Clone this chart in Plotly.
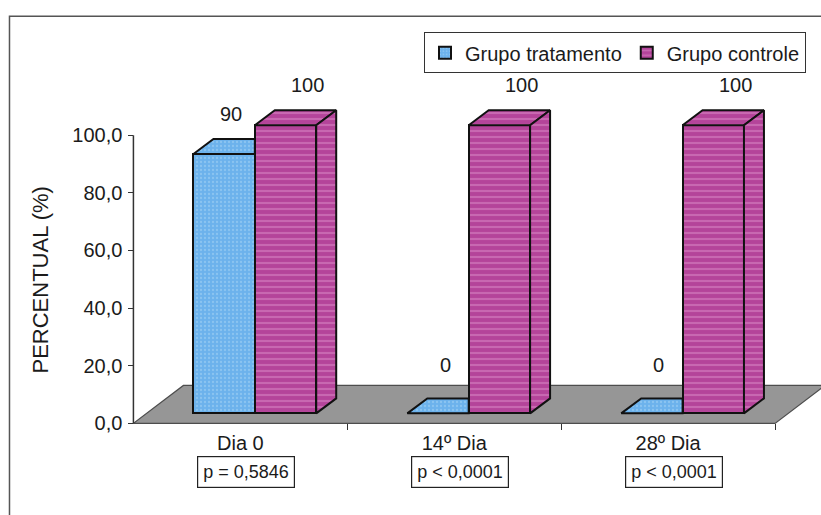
import plotly.graph_objects as go

# ---- data -------------------------------------------------------------
categories = ["Dia 0", "14º Dia", "28º Dia"]
p_values = ["p = 0,5846", "p < 0,0001", "p < 0,0001"]
series_names = ["Grupo tratamento", "Grupo controle"]
tratamento = [90, 0, 0]
controle = [100, 100, 100]
y_ticks = [0, 20, 40, 60, 80, 100]
y_title = "PERCENTUAL (%)"

# ---- canvas / pseudo-3D geometry ----------------------------------------
W, H = 821, 515
PX_X = 214.0          # pixels per category
PX_Y = 2.885          # pixels per percentage point
AXIS_PX_X = 133.0     # pixel column of the value axis (x = 0)
AXIS_PX_Y = 423.5     # pixel row of the category axis (y = 0)

X0 = -0.03            # small room left of the value axis
Y0, Y1 = -3.0, 115.0  # value range incl. room for the block tops

L = AXIS_PX_X + X0 * PX_X
R = 0.0
XMAX = X0 + (W - L - R) / PX_X
B = H - (AXIS_PX_Y - Y0 * PX_Y)
T = AXIS_PX_Y - Y1 * PX_Y
PLOT_W = W - L - R
PLOT_H = H - T - B

# depth offsets (data units)
FRONT_DX, FRONT_DY = 13 / PX_X, 10 / PX_Y   # block front face vs. axis plane
SIDE_DX, SIDE_DY = 20 / PX_X, 15 / PX_Y     # block depth
FLOOR_DX, FLOOR_DY = 50 / PX_X, 38 / PX_Y   # floor depth
BAR_W = 0.287
BAR_LEFT = 0.22

BLUE = "#6cb2ec"
BLUE_LIGHT = "#a9d6f6"
PINK = "#b4449a"
PINK_LIGHT = "#dc8cc8"
EDGE = "#111111"
TEXT = "#1b1b1b"
FONT = "Liberation Sans, Arial, sans-serif"


def paper_x(px):
    return (px - L) / PLOT_W


def paper_y(py):
    return (H - B - py) / PLOT_H


n = len(categories)
centers = [i + 0.5 for i in range(n)]
x_trat = [i + BAR_LEFT + BAR_W / 2 + FRONT_DX for i in range(n)]
x_ctrl = [i + BAR_LEFT + 1.5 * BAR_W + FRONT_DX for i in range(n)]

fig = go.Figure()

# front faces of the blocks
fig.add_trace(go.Bar(
    x=x_trat, y=tratamento, base=FRONT_DY, width=BAR_W, name=series_names[0],
    marker=dict(color=BLUE, line=dict(color=EDGE, width=2),
                pattern=dict(shape=".", fgcolor=BLUE_LIGHT, bgcolor=BLUE,
                             size=4, solidity=0.25)),
    hoverinfo="skip",
))
fig.add_trace(go.Bar(
    x=x_ctrl, y=controle, base=FRONT_DY, width=BAR_W, name=series_names[1],
    marker=dict(color=PINK, line=dict(color=EDGE, width=2),
                pattern=dict(shape="-", fgcolor=PINK_LIGHT, bgcolor=PINK,
                             size=6, solidity=0.35)),
    hoverinfo="skip",
))


def faces(xc, values, clip_right):
    """Top and right-side polygons of each block, separated by None."""
    tx, ty, sx, sy = [], [], [], []
    for c, v in zip(xc, values):
        xl, xr = c - BAR_W / 2, c + BAR_W / 2
        h = v + FRONT_DY
        if clip_right:
            # right part of the treatment block lies behind the control block
            tx += [xl, xr, xr, xl + SIDE_DX, xl, None]
            ty += [h, h, h + SIDE_DY, h + SIDE_DY, h, None]
        else:
            tx += [xl, xr, xr + SIDE_DX, xl + SIDE_DX, xl, None]
            ty += [h, h, h + SIDE_DY, h + SIDE_DY, h, None]
            sx += [xr, xr + SIDE_DX, xr + SIDE_DX, xr, xr, None]
            sy += [FRONT_DY, FRONT_DY + SIDE_DY, h + SIDE_DY, h, FRONT_DY, None]
    return tx, ty, sx, sy


for xc, vals, col, light, shape, clip in [
    (x_trat, tratamento, BLUE, BLUE_LIGHT, ".", True),
    (x_ctrl, controle, PINK, PINK_LIGHT, "-", False),
]:
    tx, ty, sx, sy = faces(xc, vals, clip)
    for fx, fy in [(tx, ty), (sx, sy)]:
        if not fx:
            continue
        fig.add_trace(go.Scatter(
            x=fx, y=fy, mode="lines", fill="toself", fillcolor=col,
            fillpattern=dict(shape=shape, fgcolor=light, bgcolor=col,
                             size=4 if shape == "." else 6,
                             solidity=0.25 if shape == "." else 0.35),
            line=dict(color=EDGE, width=2), showlegend=False, hoverinfo="skip",
        ))

shapes = [
    # floor
    dict(type="path", xref="x", yref="y", layer="below",
         path=f"M 0,0 L {n},0 L {n + FLOOR_DX},{FLOOR_DY} L {FLOOR_DX},{FLOOR_DY} Z",
         fillcolor="#969696", line=dict(color="#4d4d4d", width=1.2)),
    # value axis line
    dict(type="line", xref="x", yref="y", x0=0, x1=0, y0=0, y1=y_ticks[-1],
         line=dict(color="#333333", width=1.5)),
    # chart frame
    dict(type="rect", xref="paper", yref="paper",
         x0=paper_x(9), x1=paper_x(W + 20), y0=paper_y(H + 20), y1=paper_y(16),
         line=dict(color="#555555", width=1.5), fillcolor="rgba(0,0,0,0)"),
]

annotations = []
# value labels
for xc, vals, xshift in [(x_trat, tratamento, -3), (x_ctrl, controle, 12)]:
    for c, v in zip(xc, vals):
        annotations.append(dict(
            x=c + SIDE_DX / 2, y=v + FRONT_DY + SIDE_DY, xref="x", yref="y",
            text=f"{v}", showarrow=False, yanchor="bottom",
            yshift=12 if v else 20,
            xshift=xshift, font=dict(size=20, color=TEXT, family=FONT),
        ))
# p-value boxes
for c, p in zip(centers, p_values):
    annotations.append(dict(
        x=c, y=paper_y(472), xref="x", yref="paper", xshift=6,
        xanchor="center", yanchor="middle",
        text=p, showarrow=False, bordercolor="#222222", borderwidth=1.2,
        borderpad=5, bgcolor="white",
        font=dict(size=18, color=TEXT, family=FONT),
    ))
# value axis title
annotations.append(dict(
    x=paper_x(40), y=paper_y(280), xref="paper", yref="paper",
    xanchor="center", yanchor="middle",
    text=y_title, textangle=-90, showarrow=False,
    font=dict(size=22, color=TEXT, family=FONT),
))

fig.update_layout(
    width=W, height=H, autosize=False,
    margin=dict(l=L, r=R, t=T, b=B, pad=0),
    paper_bgcolor="white", plot_bgcolor="white",
    font=dict(family=FONT, size=20, color=TEXT),
    barmode="overlay", bargap=0,
    shapes=shapes, annotations=annotations,
    showlegend=True,
    legend=dict(
        orientation="h", x=paper_x(806), xanchor="right",
        y=paper_y(32), yanchor="top",
        bordercolor="#333333", borderwidth=1, bgcolor="white",
        font=dict(size=20, color=TEXT, family=FONT),
        itemwidth=30, tracegroupgap=0,
    ),
    xaxis=dict(
        range=[X0, XMAX], showgrid=False, zeroline=False, showline=False,
        tickmode="array", tickvals=centers, ticktext=categories, ticks="",
        anchor="free", position=paper_y(AXIS_PX_Y),
        ticklabelstandoff=6,
        minor=dict(tickmode="array", tickvals=list(range(1, n + 1)),
                   ticks="outside", ticklen=6, tickwidth=1.2,
                   tickcolor="#333333", showgrid=False),
        tickfont=dict(size=20, color=TEXT, family=FONT),
    ),
    yaxis=dict(
        range=[Y0, Y1], showgrid=False, zeroline=False, showline=False,
        tickmode="array", tickvals=y_ticks, tickformat=".1f",
        ticks="outside", ticklen=5, tickwidth=1.2, tickcolor="#333333",
        anchor="free", position=paper_x(AXIS_PX_X),
        ticklabelstandoff=2,
        tickfont=dict(size=20, color=TEXT, family=FONT),
    ),
    separators=", ",
)

fig.write_html("out.html")
